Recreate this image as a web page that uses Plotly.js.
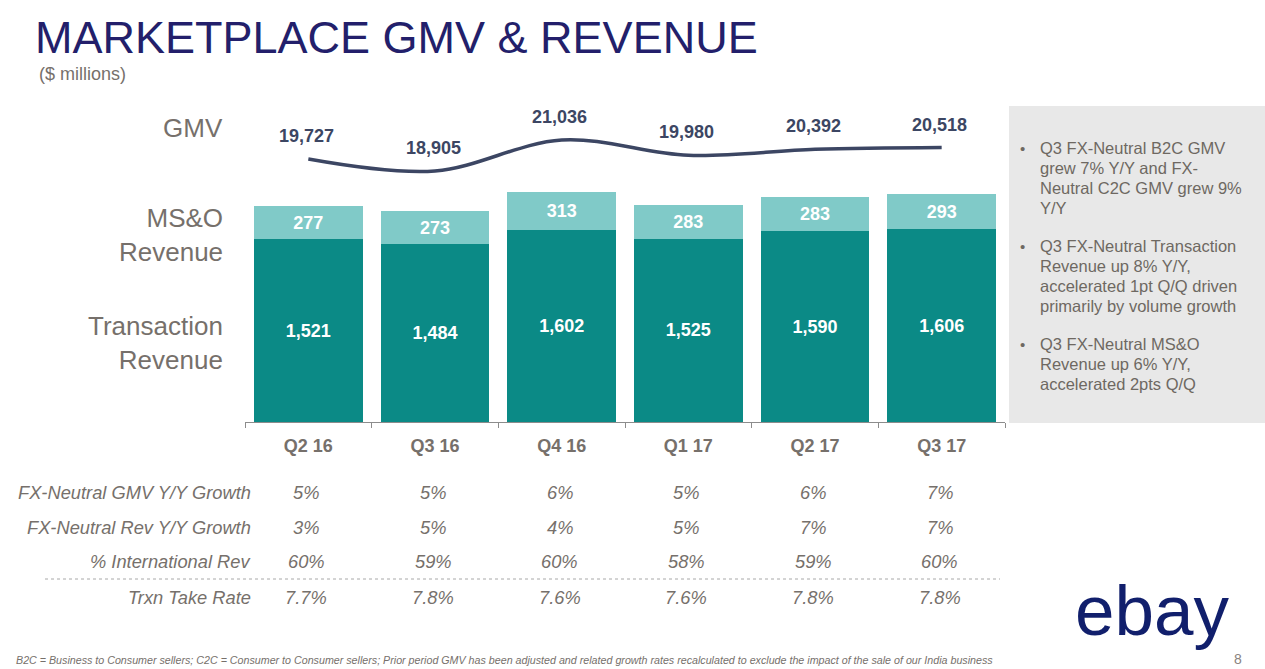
<!DOCTYPE html>
<html>
<head>
<meta charset="utf-8">
<script src="https://cdn.plot.ly/plotly-3.0.1.min.js"></script>
<style>
  html, body { margin: 0; padding: 0; background: #ffffff; }
  #chart { width: 1265px; height: 669px; }
</style>
</head>
<body>
<div id="chart"></div>
<script>
// ---------------- DATA ----------------
const quarters = ['Q2 16', 'Q3 16', 'Q4 16', 'Q1 17', 'Q2 17', 'Q3 17'];
const gmv = [19727, 18905, 21036, 19980, 20392, 20518];
const msoRevenue = [277, 273, 313, 283, 283, 293];
const transactionRevenue = [1521, 1484, 1602, 1525, 1590, 1606];

const tableRowLabels = ['FX-Neutral GMV Y/Y Growth', 'FX-Neutral Rev Y/Y Growth', '% International Rev', 'Trxn Take Rate'];
const fxNeutralGmvGrowth = ['5%', '5%', '6%', '5%', '6%', '7%'];
const fxNeutralRevGrowth = ['3%', '5%', '4%', '5%', '7%', '7%'];
const internationalRev = ['60%', '59%', '60%', '58%', '59%', '60%'];
const trxnTakeRate = ['7.7%', '7.8%', '7.6%', '7.6%', '7.8%', '7.8%'];

const sideLabels = ['GMV', 'MS&O<br>Revenue', 'Transaction<br>Revenue'];

const bulletLines = [
  ['Q3 FX-Neutral B2C GMV', 'grew 7% Y/Y and FX-', 'Neutral C2C GMV grew 9%', 'Y/Y'],
  ['Q3 FX-Neutral Transaction', 'Revenue up 8% Y/Y,', 'accelerated 1pt Q/Q driven', 'primarily by volume growth'],
  ['Q3 FX-Neutral MS&O', 'Revenue up 6% Y/Y,', 'accelerated 2pts Q/Q']
];

const titleText = 'MARKETPLACE GMV &amp; REVENUE';
const subtitleText = '($ millions)';
const footnoteText = 'B2C = Business to Consumer sellers; C2C = Consumer to Consumer sellers; Prior period GMV has been adjusted and related growth rates recalculated to exclude the impact of the sale of our India business';
const pageNumber = '8';
const logoText = 'ebay';

// ---------------- LAYOUT GEOMETRY ----------------
const FIG_W = 1265, FIG_H = 669;
const PL = 245, PR = 1005, PT = 100, PB = 422;
const PW = PR - PL, PH = PB - PT;
const px = x => (x - PL) / PW;
const py = y => (PB - y) / PH;

const FONT = 'Liberation Sans, Arial, Helvetica, sans-serif';
const GRAY = '#76706b';
const NAVY = '#231f6b';
const LINE_C = '#3c4663';
const DARK_TEAL = '#0b8a86';
const LIGHT_TEAL = '#80cac8';

// ---------------- TRACES ----------------
const traces = [
  {
    type: 'bar', name: 'Transaction Revenue', x: quarters, y: transactionRevenue,
    marker: { color: DARK_TEAL, line: { width: 0 } },
    texttemplate: '%{y:,}', textposition: 'inside', insidetextanchor: 'middle',
    textangle: 0, constraintext: 'none',
    textfont: { family: FONT, size: 18, color: '#ffffff', weight: 'bold' },
    hoverinfo: 'skip', width: 0.86
  },
  {
    type: 'bar', name: 'MS&O Revenue', x: quarters, y: msoRevenue,
    marker: { color: LIGHT_TEAL, line: { width: 0 } },
    texttemplate: '%{y:,}', textposition: 'inside', insidetextanchor: 'middle',
    textangle: 0, constraintext: 'none',
    textfont: { family: FONT, size: 18, color: '#ffffff', weight: 'bold' },
    hoverinfo: 'skip', width: 0.86
  },
  {
    type: 'scatter', mode: 'lines', name: 'GMV', x: quarters, y: gmv, yaxis: 'y2',
    line: { color: LINE_C, width: 3.5, shape: 'spline', smoothing: 1 },
    hoverinfo: 'skip'
  }
];

// ---------------- ANNOTATIONS ----------------
const annotations = [];

// subtitle
annotations.push({
  xref: 'paper', yref: 'paper', x: px(37), y: py(74), xanchor: 'left', yanchor: 'middle',
  text: subtitleText, showarrow: false, font: { family: FONT, size: 18, color: GRAY }
});

// GMV labels
gmv.forEach((v, i) => {
  annotations.push({
    xref: 'x', yref: 'y2', x: quarters[i], y: v, yshift: 23, xshift: -2,
    text: v.toLocaleString('en-US'), showarrow: false,
    font: { family: FONT, size: 18, color: LINE_C, weight: 'bold' }
  });
});

// side labels
const sideY = [128, 234.5, 343];
sideLabels.forEach((t, i) => {
  annotations.push({
    xref: 'paper', yref: 'paper', x: px(225), y: py(sideY[i]), xanchor: 'right', yanchor: 'middle',
    text: t, align: 'right', showarrow: false,
    font: { family: FONT, size: 26, color: GRAY }
  });
});

// table
const tableRows = [fxNeutralGmvGrowth, fxNeutralRevGrowth, internationalRev, trxnTakeRate];
const rowY = [492, 527, 561, 597];
tableRowLabels.forEach((lab, r) => {
  annotations.push({
    xref: 'paper', yref: 'paper', x: px(253), y: py(rowY[r]), xanchor: 'right', yanchor: 'middle',
    text: lab, showarrow: false,
    font: { family: FONT, size: 18.3, color: GRAY, style: 'italic' }
  });
  tableRows[r].forEach((val, i) => {
    annotations.push({
      xref: 'x', yref: 'paper', x: quarters[i], xshift: -2, y: py(rowY[r]), xanchor: 'center', yanchor: 'middle',
      text: val, showarrow: false,
      font: { family: FONT, size: 18.3, color: GRAY, style: 'italic' }
    });
  });
});

// bullets in side panel
const bulletStartY = [148, 246, 344];
bulletLines.forEach((lines, b) => {
  annotations.push({
    xref: 'paper', yref: 'paper', x: px(1022), y: py(bulletStartY[b]), xanchor: 'center', yanchor: 'middle',
    text: '•', showarrow: false, font: { family: FONT, size: 15, color: '#6e6862' }
  });
  lines.forEach((ln, k) => {
    annotations.push({
      xref: 'paper', yref: 'paper', x: px(1038), y: py(bulletStartY[b] + 20 * k), xanchor: 'left', yanchor: 'middle',
      text: ln, showarrow: false, font: { family: FONT, size: 16.5, color: '#6e6862' }
    });
  });
});

// footnote & page number
annotations.push({
  xref: 'paper', yref: 'paper', x: px(14), y: py(660), xanchor: 'left', yanchor: 'middle',
  text: footnoteText, showarrow: false, font: { family: FONT, size: 10.7, color: GRAY, style: 'italic' }
});
annotations.push({
  xref: 'paper', yref: 'paper', x: px(1238), y: py(659), xanchor: 'center', yanchor: 'middle',
  text: pageNumber, showarrow: false, font: { family: FONT, size: 14, color: '#8a8480' }
});

// logo
annotations.push({
  xref: 'paper', yref: 'paper', x: px(1152), y: py(610), xanchor: 'center', yanchor: 'middle',
  text: logoText, showarrow: false, font: { family: FONT, size: 71, color: '#111f6c' }
});

// ---------------- SHAPES ----------------
const shapes = [
  { type: 'rect', xref: 'paper', yref: 'paper', x0: px(1009), x1: px(1266), y0: py(106), y1: py(423),
    fillcolor: '#e8e8e8', line: { width: 0 }, layer: 'below' },
  { type: 'line', xref: 'paper', yref: 'paper', x0: px(45), x1: px(1000), y0: py(579), y1: py(579),
    line: { color: '#a8a8a8', width: 1, dash: 'dot' } }
];

// ---------------- LAYOUT ----------------
const layout = {
  width: FIG_W, height: FIG_H,
  margin: { l: PL, r: FIG_W - PR, t: PT, b: FIG_H - PB, pad: 0 },
  paper_bgcolor: '#ffffff', plot_bgcolor: 'rgba(0,0,0,0)',
  showlegend: false,
  barmode: 'stack',
  title: {
    text: titleText, xref: 'container', yref: 'container',
    x: 35 / FIG_W, xanchor: 'left', y: 1 - 37 / FIG_H, yanchor: 'middle',
    font: { family: FONT, size: 45, color: NAVY }
  },
  xaxis: {
    type: 'category', range: [-0.5, 5.5], fixedrange: true,
    tickson: 'boundaries', ticks: 'outside', ticklen: 5, tickcolor: '#8c8c8c', tickwidth: 1,
    ticklabelstandoff: 7,
    showline: true, linecolor: '#8c8c8c', linewidth: 1, showgrid: false, zeroline: false,
    tickfont: { family: FONT, size: 18, color: GRAY, weight: 'bold' }
  },
  yaxis: { range: [0, 2683], visible: false, showgrid: false, zeroline: false, fixedrange: true },
  yaxis2: { range: [1650, 23785], overlaying: 'y', visible: false, showgrid: false, zeroline: false, fixedrange: true },
  annotations: annotations,
  shapes: shapes
};

Plotly.newPlot('chart', traces, layout, { displayModeBar: false, staticPlot: true });
</script>
</body>
</html>
